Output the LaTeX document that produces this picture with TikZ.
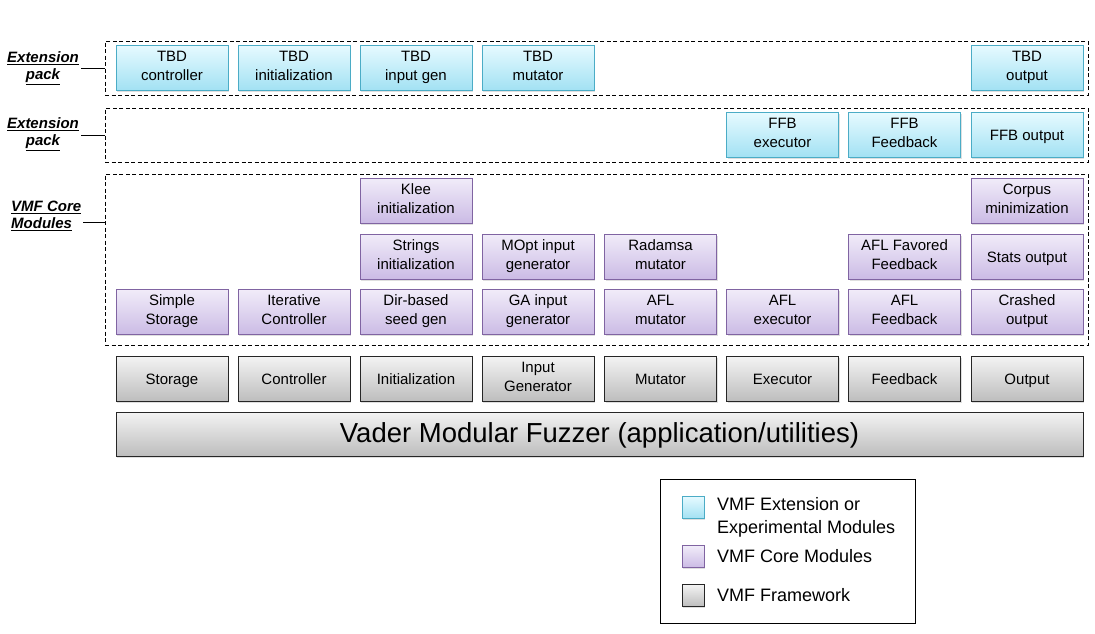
\documentclass[tikz,border=0pt]{standalone}
\usepackage{fontspec}
\setmainfont{Liberation Sans}
\usepackage{tikz}
\usetikzlibrary{shadows}

\definecolor{extTop}{HTML}{E6FAFF}
\definecolor{extBot}{HTML}{A2E1F3}
\definecolor{extLine}{HTML}{4BACC6}
\definecolor{coreTop}{HTML}{F1ECF9}
\definecolor{coreBot}{HTML}{CBBBE5}
\definecolor{coreLine}{HTML}{8064A2}
\definecolor{fwTop}{HTML}{F3F3F3}
\definecolor{fwBot}{HTML}{BDBDBD}
\definecolor{fwLine}{HTML}{262626}

\newcommand\boxstrut{\rule[-4pt]{0pt}{19pt}}

\tikzset{
  box/.style={minimum width=112pt, minimum height=45pt, inner sep=0pt, align=center,
    font=\fontsize{15}{19}\selectfont, line width=0.8pt,
    execute at begin node=\boxstrut, execute at end node=\boxstrut,
    drop shadow={opacity=0.25, shadow xshift=1pt, shadow yshift=-1.5pt}},
  extbox/.style={box, draw=extLine, top color=extTop, bottom color=extBot},
  corebox/.style={box, draw=coreLine, top color=coreTop, bottom color=coreBot},
  fwbox/.style={box, draw=fwLine, top color=fwTop, bottom color=fwBot},
  frame/.style={draw, dash pattern=on 4pt off 2.5pt, line width=0.7pt, minimum width=983pt, inner sep=0pt},
  packlabel/.style={font=\fontsize{15}{17}\selectfont\bfseries\itshape, inner sep=2pt},
  swatch/.style={minimum width=22pt, minimum height=22pt, inner sep=0pt, line width=0.8pt,
    drop shadow={opacity=0.25, shadow xshift=1pt, shadow yshift=-1.5pt}},
  legtext/.style={anchor=west, inner sep=0pt, align=left, font=\fontsize{18}{23}\selectfont}
}

\begin{document}
\begin{tikzpicture}[x=1pt,y=-1pt]
\useasboundingbox (0,0) rectangle (1095,633);

% dashed frames
\node[frame, minimum height=54pt] (extA) at (596.5,68) {};
\node[frame, minimum height=54pt] (extB) at (596.5,135) {};
\node[frame, minimum height=171pt] (core) at (596.5,259.5) {};

% labels at the left
\node[packlabel, align=center] (labExtA) at (43,68.5) {\underline{Extension}\\\underline{pack}};
\node[packlabel, align=center] (labExtB) at (43,134) {\underline{Extension}\\\underline{pack}};
\node[packlabel, align=left, anchor=west] (labCore) at (9,215.5) {\underline{VMF Core}\\\underline{Modules}};
\draw[line width=0.7pt] (labExtA.east |- extA.west) -- (extA.west);
\draw[line width=0.7pt] (labExtB.east |- extB.west) -- (extB.west);
\draw[line width=0.7pt] ([yshift=-6.5pt]labCore.east) -- ([yshift=-6.5pt]labCore.east -| core.west);

% extension pack 1
\node[extbox] (tbdCtrl) at (172,68) {TBD\\controller};
\node[extbox] (tbdInit) at (294,68) {TBD\\initialization};
\node[extbox] (tbdGen) at (416,68) {TBD\\input gen};
\node[extbox] (tbdMut) at (538,68) {TBD\\mutator};
\node[extbox] (tbdOut) at (1027,68) {TBD\\output};

% extension pack 2
\node[extbox] (ffbExec) at (782.5,135) {FFB\\executor};
\node[extbox] (ffbFb) at (904.5,135) {FFB\\Feedback};
\node[extbox] (ffbOut) at (1027,135) {FFB output};

% core modules
\node[corebox] (klee) at (416,200.5) {Klee\\initialization};
\node[corebox] (corpus) at (1027,200.5) {Corpus\\minimization};

\node[corebox] (strings) at (416,256.5) {Strings\\initialization};
\node[corebox] (mopt) at (538,256.5) {MOpt input\\generator};
\node[corebox] (radamsa) at (660.5,256.5) {Radamsa\\mutator};
\node[corebox] (aflFav) at (904.5,256.5) {AFL Favored\\Feedback};
\node[corebox] (stats) at (1027,256.5) {Stats output};

\node[corebox] (simpleSt) at (172,312) {Simple\\Storage};
\node[corebox] (iterCtrl) at (294,312) {Iterative\\Controller};
\node[corebox] (dirSeed) at (416,312) {Dir-based\\seed gen};
\node[corebox] (gaGen) at (538,312) {GA input\\generator};
\node[corebox] (aflMut) at (660.5,312) {AFL\\mutator};
\node[corebox] (aflExec) at (782.5,312) {AFL\\executor};
\node[corebox] (aflFb) at (904.5,312) {AFL\\Feedback};
\node[corebox] (crashed) at (1027,312) {Crashed\\output};

% framework
\node[fwbox] (storage) at (172,379) {Storage};
\node[fwbox] (controller) at (294,379) {Controller};
\node[fwbox] (init) at (416,379) {Initialization};
\node[fwbox] (inputGen) at (538,379) {Input\\Generator};
\node[fwbox] (mutator) at (660.5,379) {Mutator};
\node[fwbox] (executor) at (782.5,379) {Executor};
\node[fwbox] (feedback) at (904.5,379) {Feedback};
\node[fwbox] (output) at (1027,379) {Output};

\node[fwbox, minimum width=967pt, minimum height=44pt, font=\fontsize{27.5}{32}\selectfont,
  execute at begin node={\rule[-6pt]{0pt}{28pt}}, execute at end node={}] (vader) at (599.5,434) {Vader Modular Fuzzer (application/utilities)};

% legend
\node[draw, line width=0.8pt, minimum width=255pt, minimum height=144pt, inner sep=0pt] (legend) at (787.5,551) {};
\node[swatch, draw=extLine, top color=extTop, bottom color=extBot] (swExt) at (693,507.5) {};
\node[swatch, draw=coreLine, top color=coreTop, bottom color=coreBot] (swCore) at (693,556.5) {};
\node[swatch, draw=fwLine, top color=fwTop, bottom color=fwBot] (swFw) at (693,595.5) {};
\node[legtext] (txtExt) at (717,517.5) {VMF Extension or\\Experimental Modules};
\node[legtext] (txtCore) at (717,556.5) {VMF Core Modules};
\node[legtext] (txtFw) at (717,595.5) {VMF Framework};
\end{tikzpicture}
\end{document}
